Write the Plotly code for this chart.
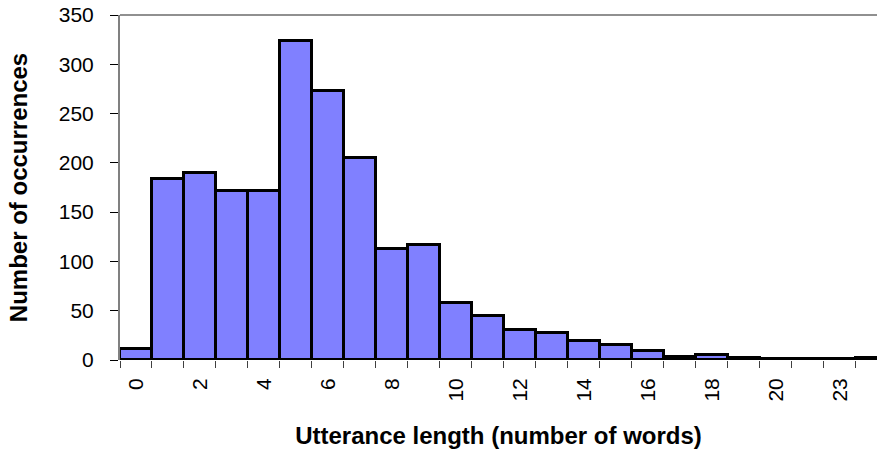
import plotly.graph_objects as go

# utterance length histogram (words per utterance)
categories = ['0', '1', '2', '3', '4', '5', '6', '7', '8', '9', '10', '11',
              '12', '13', '14', '15', '16', '17', '18', '19', '20', '21', '23', '24']
counts = [11, 184, 190, 171, 171, 324, 273, 205, 113, 117, 58, 45,
          30, 27, 19, 15, 9, 3, 5, 2, 1, 1, 1, 2]
y_ticks = [0, 50, 100, 150, 200, 250, 300, 350]

pos = list(range(len(categories)))
FONT = 'Liberation Sans, Arial, sans-serif'

fig = go.Figure()
fig.add_trace(go.Bar(
    x=pos,
    y=counts,
    width=1,
    marker=dict(color='#8080FF', line=dict(color='black', width=3)),
    showlegend=False,
))

fig.update_layout(
    width=877,
    height=454,
    margin=dict(l=120, r=0, t=15, b=94),
    plot_bgcolor='white',
    paper_bgcolor='white',
    bargap=0,
    font=dict(family=FONT, size=21, color='black'),
    xaxis=dict(
        range=[-0.5, 23.16],
        tickmode='array',
        tickvals=pos[::2],
        ticktext=categories[::2],
        tickangle=-90,
        ticks='',
        ticklabelstandoff=13,
        showgrid=False,
        zeroline=False,
        showline=False,
        minor=dict(
            tickmode='array',
            tickvals=[p - 0.5 for p in pos],
            ticks='outside',
            ticklen=7,
            tickcolor='#404040',
            tickwidth=1,
            showgrid=False,
        ),
        title=dict(text='<b>Utterance length (number of words)</b>',
                   font=dict(size=24), standoff=26),
    ),
    yaxis=dict(
        range=[0, 350],
        tickvals=y_ticks,
        ticks='outside',
        ticklen=8,
        tickcolor='black',
        ticklabelstandoff=12,
        showgrid=False,
        zeroline=False,
        showline=True,
        linecolor='#808080',
        linewidth=2,
        mirror=False,
        title=dict(text='<b>Number of occurrences</b>', font=dict(size=24), standoff=24),
    ),
)

# gray frame line along the top of the plot area
fig.add_shape(type='line', xref='paper', yref='paper', x0=0, x1=1, y0=1, y1=1,
              line=dict(color='#909090', width=2))

# drop the default 8px page margin so the figure sits at the window corner
fig.write_html("out.html", config={'displayModeBar': False},
               post_script="document.body.style.margin='0';")
